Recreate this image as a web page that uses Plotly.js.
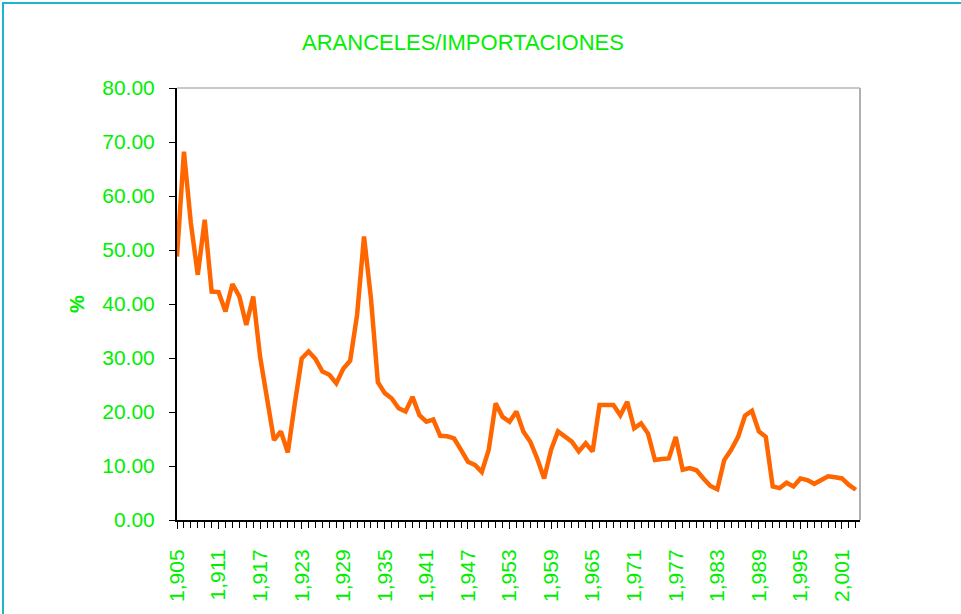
<!DOCTYPE html>
<html>
<head>
<meta charset="utf-8">
<script src="https://cdn.plot.ly/plotly-3.0.1.min.js"></script>
<style>
  html, body { margin: 0; padding: 0; background: #ffffff; overflow: hidden; }
  #wrap { position: relative; width: 961px; height: 614px; }
  #chart { position: absolute; left: 0; top: 0; width: 961px; height: 614px; }
  #frame { position: absolute; left: 2px; top: 2px; width: 1200px; height: 800px;
           border-top: 2px solid #1fb4cc; border-left: 2px solid #1fb4cc; pointer-events: none; }
</style>
</head>
<body>
<div id="wrap">
  <div id="chart"></div>
  <div id="frame"></div>
</div>
<script>
const years = [1905,1906,1907,1908,1909,1910,1911,1912,1913,1914,
  1915,1916,1917,1918,1919,1920,1921,1922,1923,1924,
  1925,1926,1927,1928,1929,1930,1931,1932,1933,1934,
  1935,1936,1937,1938,1939,1940,1941,1942,1943,1944,
  1945,1946,1947,1948,1949,1950,1951,1952,1953,1954,
  1955,1956,1957,1958,1959,1960,1961,1962,1963,1964,
  1965,1966,1967,1968,1969,1970,1971,1972,1973,1974,
  1975,1976,1977,1978,1979,1980,1981,1982,1983,1984,
  1985,1986,1987,1988,1989,1990,1991,1992,1993,1994,
  1995,1996,1997,1998,1999,2000,2001,2002,2003];

const tariffs = [48.8,68.2,55.0,45.4,55.6,42.3,42.2,38.6,43.7,41.4,
  36.1,41.4,30.2,22.8,14.8,16.4,12.5,21.5,29.9,31.2,
  29.8,27.5,26.9,25.3,28.0,29.5,38.0,52.5,41.0,25.5,
  23.5,22.5,20.7,20.1,22.8,19.4,18.2,18.6,15.6,15.5,
  15.1,13.0,10.8,10.2,8.9,13.0,21.6,19.1,18.2,20.1,
  16.4,14.5,11.4,7.7,13.0,16.4,15.4,14.5,12.7,14.2,
  12.7,21.3,21.3,21.3,19.4,21.9,17.0,17.9,16.0,11.1,
  11.3,11.4,15.4,9.3,9.6,9.2,7.7,6.3,5.7,11.1,
  13.0,15.4,19.3,20.2,16.4,15.4,6.2,5.9,6.9,6.2,
  7.7,7.4,6.7,7.4,8.1,7.9,7.7,6.5,5.6];

const tickYears = [1905,1911,1917,1923,1929,1935,1941,1947,1953,1959,1965,1971,1977,1983,1989,1995,2001];
const tickLabels = ["1,905","1,911","1,917","1,923","1,929","1,935","1,941","1,947","1,953","1,959","1,965","1,971","1,977","1,983","1,989","1,995","2,001"];

const green = "#00ee00";
const fontFam = "Liberation Sans, Arial, sans-serif";

const trace = {
  x: years,
  y: tariffs,
  type: "scatter",
  mode: "lines",
  line: { color: "#ff6600", width: 4.5 },
  hoverinfo: "x+y"
};

const layout = {
  width: 961,
  height: 614,
  margin: { l: 177, r: 101, t: 88, b: 94 },
  paper_bgcolor: "#ffffff",
  plot_bgcolor: "#ffffff",
  showlegend: false,
  font: { family: fontFam, color: green },
  title: {
    text: "ARANCELES/IMPORTACIONES",
    font: { family: fontFam, size: 22, color: green },
    xref: "container", yref: "container",
    x: 0.4818, y: 0.931, xanchor: "center", yanchor: "middle"
  },
  xaxis: {
    range: [1905, 2003.6],
    showgrid: false,
    zeroline: false,
    showline: true,
    linecolor: "#000000",
    linewidth: 2,
    ticks: "outside",
    ticklen: 7,
    tickwidth: 1,
    tickcolor: "#000000",
    tickvals: tickYears,
    ticktext: tickLabels,
    tickangle: -90,
    ticklabelstandoff: 12,
    tickfont: { family: fontFam, size: 21, color: green },
    minor: { dtick: 1, tick0: 1905, ticks: "outside", ticklen: 6, tickwidth: 1, tickcolor: "#000000", showgrid: false },
    fixedrange: true
  },
  yaxis: {
    range: [0, 80],
    dtick: 10,
    tick0: 0,
    tickformat: ".2f",
    showgrid: false,
    zeroline: false,
    showline: true,
    linecolor: "#000000",
    linewidth: 2,
    ticks: "outside",
    ticklen: 6,
    tickwidth: 1,
    tickcolor: "#000000",
    ticklabelstandoff: 10,
    tickfont: { family: fontFam, size: 21, color: green },
    title: {
      text: "%",
      font: { family: fontFam, size: 20, color: green, weight: 700 },
      standoff: 12
    },
    fixedrange: true
  },
  shapes: [
    { type: "line", xref: "paper", yref: "paper", x0: 0, x1: 1, y0: 1, y1: 1,
      line: { color: "#c8c8c8", width: 2 }, layer: "below" },
    { type: "line", xref: "paper", yref: "paper", x0: 1, x1: 1, y0: 0, y1: 1,
      line: { color: "#b0b0b0", width: 2 }, layer: "below" }
  ]
};

Plotly.newPlot("chart", [trace], layout, { displayModeBar: false, staticPlot: true });
</script>
</body>
</html>
